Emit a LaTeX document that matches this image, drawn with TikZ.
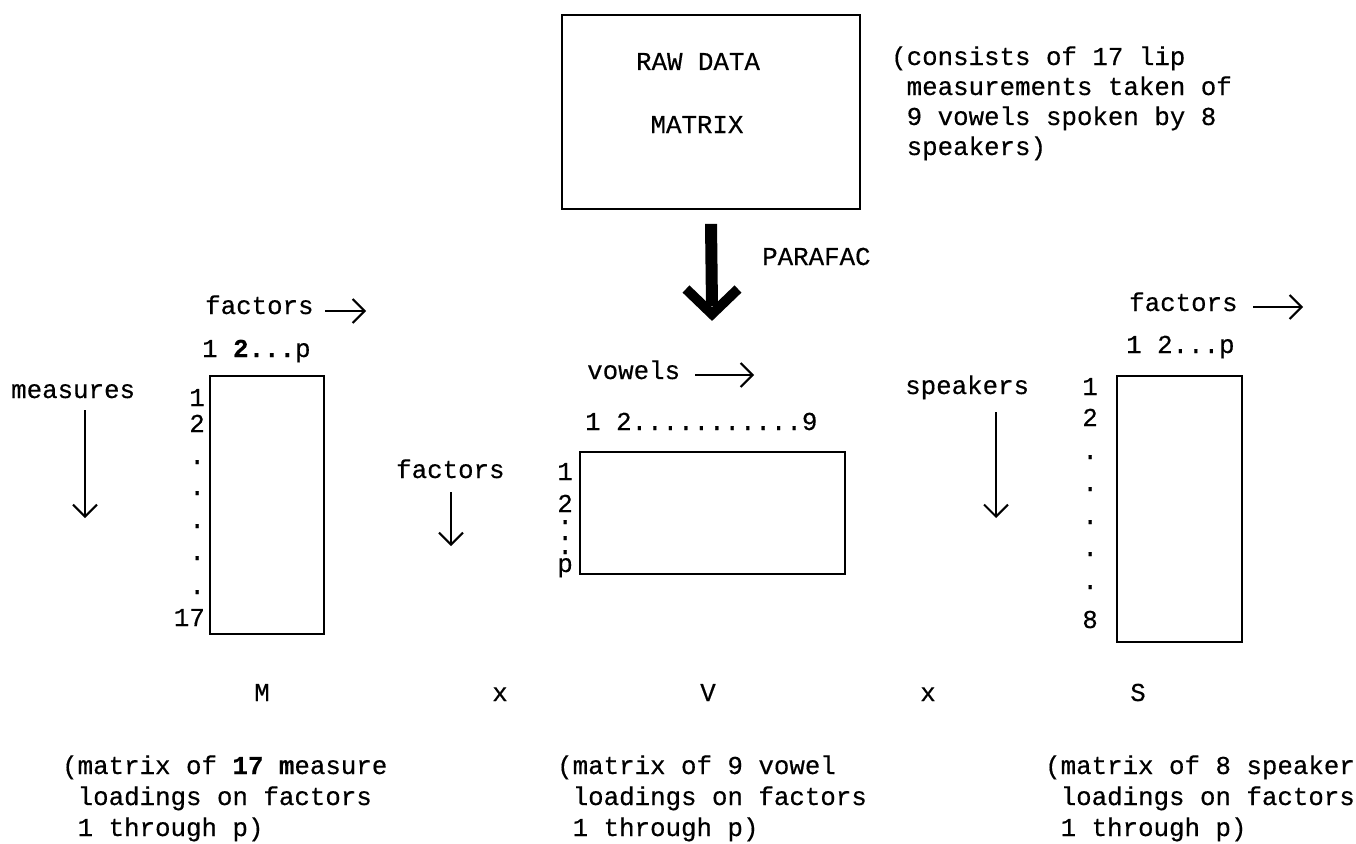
\documentclass[tikz,border=0pt]{standalone}
\usepackage{fontspec}
\newfontfamily\twfam{Liberation Mono}[FakeBold=0.4]
\usetikzlibrary{arrows.meta}

\tikzset{
  txt/.style={inner sep=0pt, font=\twfam\fontsize{25.8}{30}\selectfont},
  mat/.style={draw, line width=1.8pt, inner sep=0pt},
  arr/.style={line width=1.6pt, -{Straight Barb[length=12pt, width=24pt, line width=2pt]}},
  % multi-line notes are anchored on the baseline of their last line
  captext/.style={txt, anchor=base west, align=left, font=\twfam\fontsize{25.8}{31}\selectfont},
}

\begin{document}
\begin{tikzpicture}[x=1pt, y=-1pt]
\useasboundingbox (0,0) rectangle (1356,843);
\fill[white] (0,0) rectangle (1356,843);

% ---- raw data block and its note ----
\node[mat, minimum width=298pt, minimum height=194pt] (raw) at (711,112) {};
\node[txt, anchor=base] (rawt1) at (698,70) {RAW DATA};
\node[txt, anchor=base] (rawt2) at (697,133) {MATRIX};
\node[captext, font=\twfam\fontsize{25.8}{30}\selectfont] (rawcap) at (891,155)
  {(consists of 17 lip\\\hphantom{(}measurements taken of\\\hphantom{(}9 vowels spoken by 8\\\hphantom{(}speakers)};

% ---- PARAFAC decomposition arrow ----
\coordinate (ptip) at (712,314);
\draw[line width=12pt] ([yshift=-14pt]raw.south) -- (712,306);
\draw[line width=10pt, line join=miter] (686,289) -- (ptip) -- (738,289);
\node[txt, anchor=base west] (para) at (762,265) {PARAFAC};

% ---- M : measures x factors ----
\node[mat, minimum width=114pt, minimum height=258pt] (mbox) at (267,505) {};
\node[txt, anchor=base west] (mfac) at (205,314) {factors};
\coordinate (mfa1) at (325,311); \coordinate (mfa2) at (366,311);
\draw[arr] (mfa1) -- (mfa2);
\node[txt, anchor=base west] (mhead) at (202,357) {1 \textbf{2...}p};
\foreach \t/\yy [count=\k] in {1/406, 2/432, ./464, ./495, ./528, ./560, ./594, 17/626}
  \node[txt, anchor=base east] (mr\k) at (205,\yy) {\t};
\node[txt, anchor=base west] (meas) at (11,398) {measures};
\coordinate (ma1) at (85,410); \coordinate (ma2) at (85,518);
\draw[arr] (ma1) -- (ma2);

% ---- V : factors x vowels ----
\node[mat, minimum width=265pt, minimum height=122pt] (vbox) at (712.5,513) {};
\node[txt, anchor=base west] (vvow) at (587,379) {vowels};
\coordinate (va1) at (695,375); \coordinate (va2) at (754,375);
\draw[arr] (va1) -- (va2);
\node[txt, anchor=base west] (vhead) at (585,430) {1 2...........9};
% row index column, typed with tightly packed periods
\node[txt, anchor=base east, align=right] (vrows) at (573,572)
  {1\\[2pt]2\\[-18pt].\\[-14pt].\\[-16pt].\\[-12pt]p};
\node[txt, anchor=base west] (vfac) at (396,478) {factors};
\coordinate (vf1) at (451,492); \coordinate (vf2) at (451,546);
\draw[arr] (vf1) -- (vf2);

% ---- S : speakers x factors ----
\node[mat, minimum width=125pt, minimum height=266pt] (sbox) at (1179.5,509) {};
\node[txt, anchor=base west] (sfac) at (1129,311) {factors};
\coordinate (sa1) at (1253,307); \coordinate (sa2) at (1303,307);
\draw[arr] (sa1) -- (sa2);
\node[txt, anchor=base west] (shead) at (1126,353) {1 2...p};
\foreach \t/\yy [count=\k] in {1/395, 2/426, ./459, ./491, ./524, ./556, ./589, 8/628}
  \node[txt, anchor=base east] (sr\k) at (1098,\yy) {\t};
\node[txt, anchor=base west] (spk) at (905,394) {speakers};
\coordinate (sp1) at (996,412); \coordinate (sp2) at (996,518);
\draw[arr] (sp1) -- (sp2);

% ---- product line ----
\node[txt, anchor=base] (lm) at (262,701) {M};
\node[txt, anchor=base] (lx1) at (500,701) {x};
\node[txt, anchor=base] (lv) at (708,701) {V};
\node[txt, anchor=base] (lx2) at (928,701) {x};
\node[txt, anchor=base] (ls) at (1138,701) {S};

% ---- explanations ----
\node[captext] (mcap) at (62,836)
  {(matrix of \textbf{17} \textbf{m}easure\\\hphantom{(}loadings on factors\\\hphantom{(}1 through p)};
\node[captext] (vcap) at (557,836)
  {(matrix of 9 vowel\\\hphantom{(}loadings on factors\\\hphantom{(}1 through p)};
\node[captext] (scap) at (1045,836)
  {(matrix of 8 speaker\\\hphantom{(}loadings on factors\\\hphantom{(}1 through p)};
\end{tikzpicture}
\end{document}
